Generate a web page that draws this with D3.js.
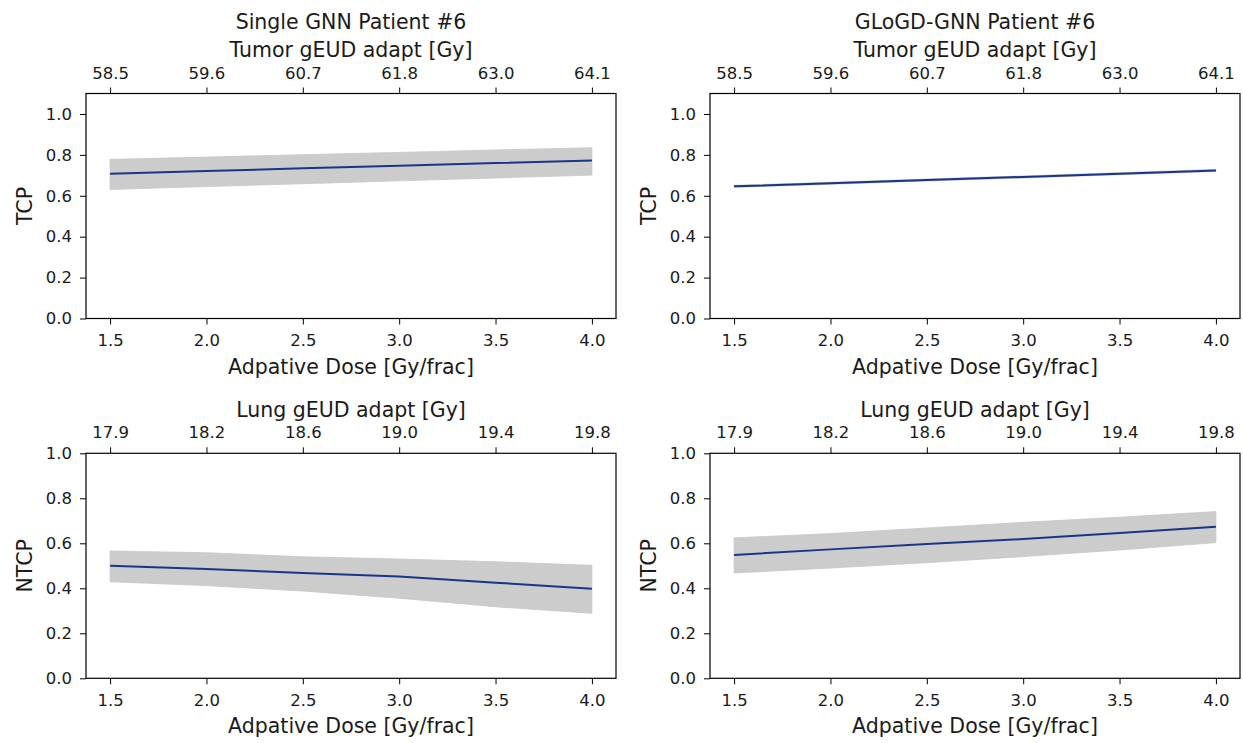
<!DOCTYPE html>
<html>
<head>
<meta charset="utf-8">
<script src="https://cdn.jsdelivr.net/npm/d3@7"></script>
<style>
  html, body { margin: 0; padding: 0; background: #fff; }
  svg text { font-family: "DejaVu Sans", sans-serif; fill: #1a1a1a; }
</style>
</head>
<body>
<svg id="fig" width="1243" height="743"></svg>
<script>
// Adaptive dose per fraction (x) shared by all panels
const dose = [1.5, 2.0, 2.5, 3.0, 3.5, 4.0];
const doseTicks = [1.5, 2.0, 2.5, 3.0, 3.5, 4.0];

// Secondary (top) axis labels: equivalent gEUD at each dose tick
const tumorGeudLabels = ["58.5", "59.6", "60.7", "61.8", "63.0", "64.1"];
const lungGeudLabels  = ["17.9", "18.2", "18.6", "19.0", "19.4", "19.8"];

// Single GNN – TCP (mean and uncertainty band)
const singleTcpMean  = [0.708, 0.721, 0.734, 0.747, 0.760, 0.773];
const singleTcpLow   = [0.631, 0.645, 0.659, 0.673, 0.687, 0.701];
const singleTcpHigh  = [0.778, 0.789, 0.801, 0.812, 0.824, 0.835];

// GLoGD-GNN – TCP
const glogdTcpMean   = [0.646, 0.661, 0.677, 0.692, 0.708, 0.724];
const glogdTcpLow    = [0.641, 0.656, 0.672, 0.687, 0.703, 0.719];
const glogdTcpHigh   = [0.651, 0.666, 0.682, 0.697, 0.713, 0.729];

// Single GNN – NTCP
const singleNtcpMean = [0.500, 0.486, 0.468, 0.452, 0.425, 0.398];
const singleNtcpLow  = [0.429, 0.412, 0.388, 0.356, 0.318, 0.289];
const singleNtcpHigh = [0.566, 0.558, 0.540, 0.530, 0.518, 0.502];

// GLoGD-GNN – NTCP
const glogdNtcpMean  = [0.548, 0.573, 0.597, 0.619, 0.646, 0.674];
const glogdNtcpLow   = [0.468, 0.490, 0.514, 0.541, 0.570, 0.603];
const glogdNtcpHigh  = [0.624, 0.643, 0.668, 0.693, 0.716, 0.741];

const tcpTicks  = [0.0, 0.2, 0.4, 0.6, 0.8, 1.0];
const ntcpTicks = [0.0, 0.2, 0.4, 0.6, 0.8, 1.0];

const panels = [
  { left: 86,  top: 93.5,  title: "Single GNN Patient #6", topLabel: "Tumor gEUD adapt [Gy]",
    topTicks: tumorGeudLabels, yLabel: "TCP", yMax: 1.1, yTicks: tcpTicks,
    mean: singleTcpMean, low: singleTcpLow, high: singleTcpHigh },
  { left: 710, top: 93.5,  title: "GLoGD-GNN Patient #6", topLabel: "Tumor gEUD adapt [Gy]",
    topTicks: tumorGeudLabels, yLabel: "TCP", yMax: 1.1, yTicks: tcpTicks,
    mean: glogdTcpMean, low: glogdTcpLow, high: glogdTcpHigh },
  { left: 86,  top: 453.3, title: null, topLabel: "Lung gEUD adapt [Gy]",
    topTicks: lungGeudLabels, yLabel: "NTCP", yMax: 1.0, yTicks: ntcpTicks,
    mean: singleNtcpMean, low: singleNtcpLow, high: singleNtcpHigh },
  { left: 710, top: 453.3, title: null, topLabel: "Lung gEUD adapt [Gy]",
    topTicks: lungGeudLabels, yLabel: "NTCP", yMax: 1.0, yTicks: ntcpTicks,
    mean: glogdNtcpMean, low: glogdNtcpLow, high: glogdNtcpHigh }
];

const W = 530, H = 225;
const tickFont = 16.5, labelFont = 20.5;
const svg = d3.select("#fig");

panels.forEach(p => {
  const g = svg.append("g").attr("transform", `translate(${p.left},${p.top})`);
  const x = d3.scaleLinear().domain([1.375, 4.125]).range([0, W]);
  const y = d3.scaleLinear().domain([0, p.yMax]).range([H, 0]);

  const rows = dose.map((d, i) => ({ d, m: p.mean[i], lo: p.low[i], hi: p.high[i] }));

  // uncertainty band
  g.append("path")
    .datum(rows)
    .attr("d", d3.area().x(r => x(r.d)).y0(r => y(r.lo)).y1(r => y(r.hi)))
    .attr("fill", "#cccccc")
    .attr("stroke", "#c6c6c6")
    .attr("stroke-width", 0.8);

  // mean curve
  g.append("path")
    .datum(rows)
    .attr("d", d3.line().x(r => x(r.d)).y(r => y(r.m)))
    .attr("fill", "none")
    .attr("stroke", "#1c338a")
    .attr("stroke-width", 2);

  const styleAxis = sel => {
    sel.selectAll("path.domain").remove();
    sel.selectAll(".tick line").attr("stroke", "#000").attr("stroke-width", 1);
    sel.selectAll(".tick text").attr("font-size", tickFont).attr("fill", "#1a1a1a");
  };

  g.append("g").attr("transform", `translate(0,${H})`)
    .call(d3.axisBottom(x).tickValues(doseTicks).tickFormat(d3.format(".1f")).tickSize(6).tickPadding(10))
    .call(styleAxis);

  g.append("g")
    .call(d3.axisTop(x).tickValues(doseTicks).tickFormat((d, i) => p.topTicks[i]).tickSize(6).tickPadding(9))
    .call(styleAxis);

  g.append("g")
    .call(d3.axisLeft(y).tickValues(p.yTicks).tickFormat(d3.format(".1f")).tickSize(6).tickPadding(8))
    .call(styleAxis);

  // frame
  g.append("rect").attr("width", W).attr("height", H)
    .attr("fill", "none").attr("stroke", "#000").attr("stroke-width", 1.2);

  g.append("text").attr("x", W / 2).attr("y", H + 55)
    .attr("text-anchor", "middle").attr("font-size", labelFont)
    .text("Adpative Dose [Gy/frac]");

  g.append("text").attr("x", W / 2).attr("y", -36.5)
    .attr("text-anchor", "middle").attr("font-size", labelFont)
    .text(p.topLabel);

  if (p.title) {
    g.append("text").attr("x", W / 2).attr("y", -65)
      .attr("text-anchor", "middle").attr("font-size", labelFont)
      .text(p.title);
  }

  g.append("text")
    .attr("transform", `translate(-54.5,${H / 2}) rotate(-90)`)
    .attr("text-anchor", "middle").attr("font-size", labelFont)
    .text(p.yLabel);
});
</script>
</body>
</html>
